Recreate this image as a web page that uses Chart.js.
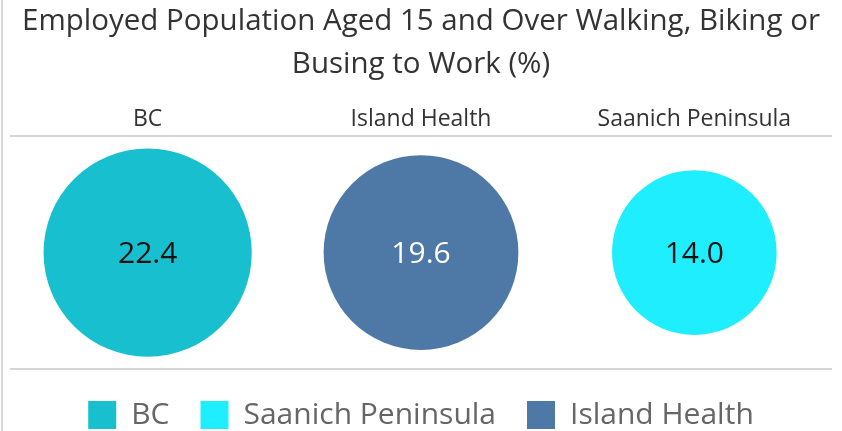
<!DOCTYPE html>
<html>
<head>
<meta charset="utf-8">
<script src="https://cdn.jsdelivr.net/npm/chart.js@4"></script>
<style>
  body { margin: 0; background: #fff; }
  #wrap { position: relative; width: 842px; height: 431px; }
  #wrap:before { content: ''; position: absolute; left: 1px; top: 0; width: 2px; height: 431px; background: #d9d9d9; }
</style>
</head>
<body>
<div id="wrap"><canvas id="chart"></canvas></div>
<script>
// columns as they appear left to right, with their values (%)
const columns = ['BC', 'Island Health', 'Saanich Peninsula'];
const values = [22.4, 19.6, 14.0];
// legend order
const legendOrder = ['BC', 'Saanich Peninsula', 'Island Health'];
const titleLines = ['Employed Population Aged 15 and Over Walking, Biking or', 'Busing to Work (%)'];

const fills = { 'BC': '#17bfcf', 'Island Health': '#4e79a7', 'Saanich Peninsula': '#1eeeff' };
const textColors = { 'BC': '#111', 'Island Health': '#fff', 'Saanich Peninsula': '#111' };

Chart.defaults.font.family = "'Open Sans'";

// bubble area proportional to value
const radiusFor = v => Math.sqrt(v) * 22;

const datasets = legendOrder.map(name => {
    const i = columns.indexOf(name);
    return {
        label: name,
        data: [{ x: i, y: 0, r: radiusFor(values[i]), v: values[i] }],
        backgroundColor: fills[name],
        borderWidth: 0,
        hoverBorderWidth: 0
    };
});

// value labels in the middle of each circle
const valueLabels = {
    id: 'valueLabels',
    afterDatasetsDraw(chart) {
        const ctx = chart.ctx;
        ctx.save();
        ctx.font = "30px 'Open Sans'";
        ctx.textAlign = 'center';
        ctx.textBaseline = 'middle';
        chart.data.datasets.forEach((ds, i) => {
            chart.getDatasetMeta(i).data.forEach((pt, j) => {
                ctx.fillStyle = textColors[ds.label];
                ctx.fillText(ds.data[j].v.toFixed(1), pt.x, pt.y + 2);
            });
        });
        ctx.restore();
    }
};

new Chart(document.getElementById('chart'), {
    type: 'bubble',
    data: { datasets: datasets },
    plugins: [valueLabels],
    options: {
        responsive: true,
        maintainAspectRatio: false,
        animation: false,
        layout: { autoPadding: false, padding: { left: 11, right: 11, top: 0, bottom: -9 } },
        plugins: {
            title: {
                display: true,
                text: titleLines,
                color: '#333',
                font: { size: 29.5, weight: 'normal', lineHeight: 1.45 },
                padding: { top: 0, bottom: 17 }
            },
            legend: {
                position: 'bottom',
                labels: {
                    color: '#666',
                    font: { size: 30 },
                    boxWidth: 28,
                    boxHeight: 28,
                    padding: 31
                }
            },
            tooltip: { enabled: false }
        },
        scales: {
            x: {
                type: 'linear',
                position: 'top',
                min: -0.5,
                max: 2.5,
                afterBuildTicks: scale => { scale.ticks = columns.map((c, i) => ({ value: i })); },
                ticks: {
                    callback: v => columns[v],
                    color: '#333',
                    font: { size: 23 },
                    padding: 3
                },
                grid: { display: false, drawTicks: false },
                border: { color: '#d6d6d6', width: 2 }
            },
            x2: {
                type: 'linear',
                position: 'bottom',
                ticks: { display: false },
                grid: { display: false, drawTicks: false },
                border: { color: '#d6d6d6', width: 2 }
            },
            y: { display: false, min: -1, max: 1 }
        }
    }
});
</script>
</body>
</html>
